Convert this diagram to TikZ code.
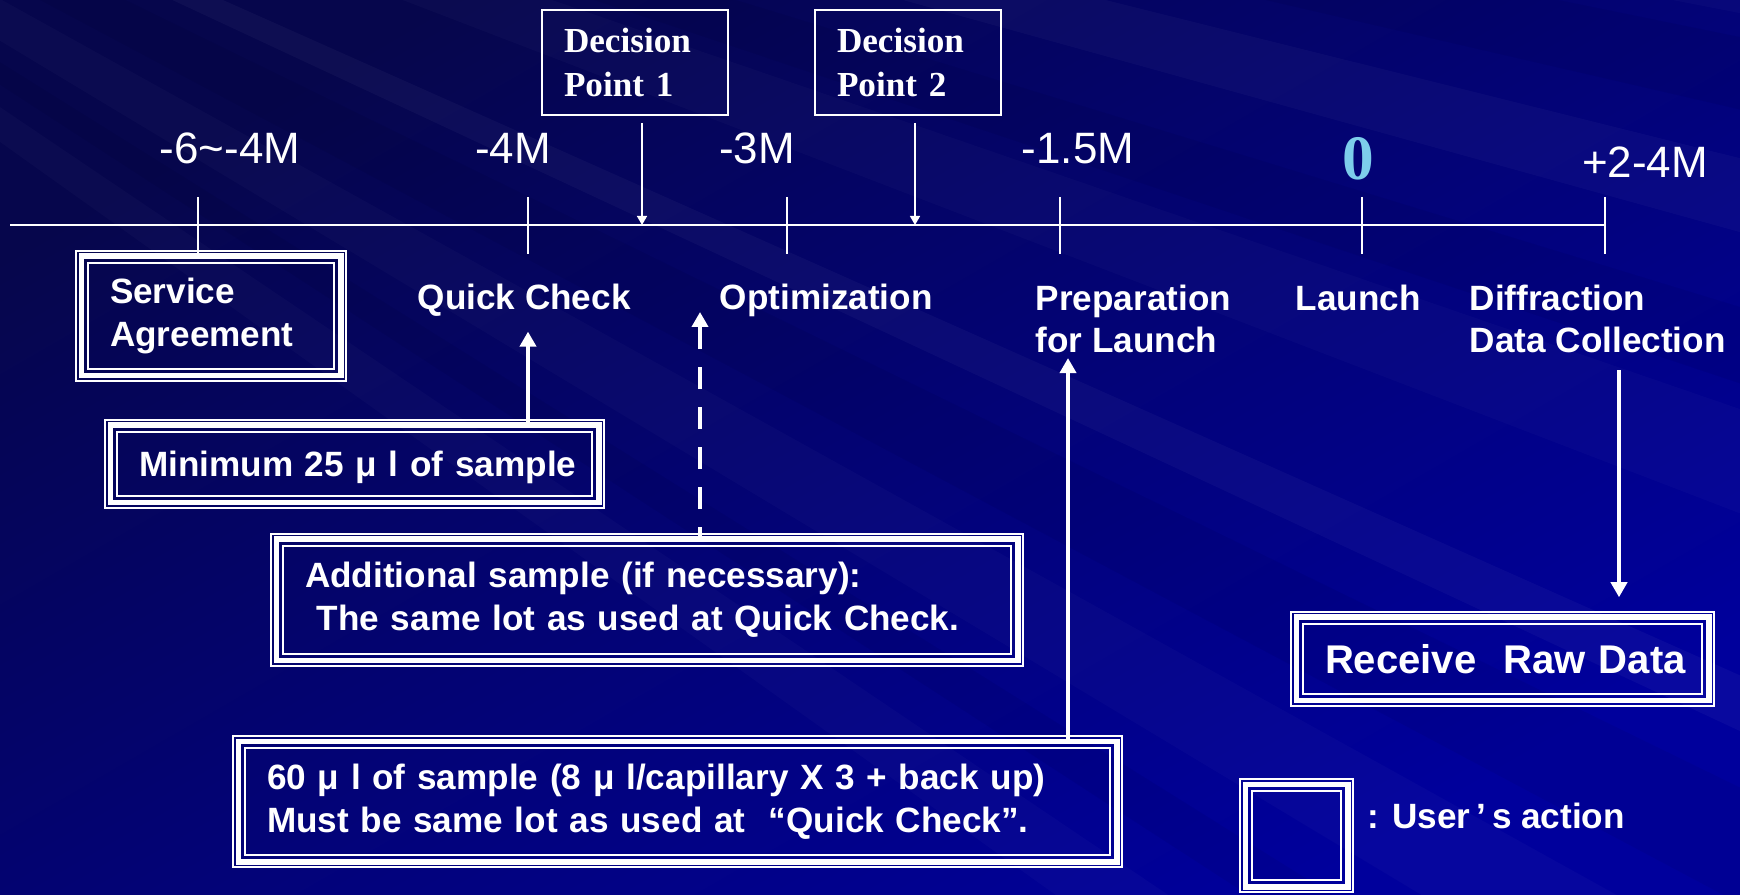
\documentclass[tikz,border=0pt]{standalone}
\usepackage{fontspec}
\setmainfont{Liberation Sans}
\newfontfamily\serifbold{Liberation Serif}
\usetikzlibrary{calc}
\usetikzlibrary{arrows.meta}

\definecolor{bgtop}{RGB}{6,6,76}
\definecolor{bgbot}{RGB}{0,0,156}
\definecolor{zeroblue}{RGB}{125,205,235}

\tikzset{
  useract/.style={draw=white, line width=0.55mm, outer sep=0pt, inner xsep=2.875mm, inner ysep=0pt,
    align=left, text=white, font=\fontsize{10}{12.3}\selectfont\bfseries},
  decision/.style={draw=white, line width=0.2mm, outer sep=0pt, inner xsep=2.2mm, text width=14.2mm,
    minimum height=10.5mm, align=left, text=white, font=\serifbold\fontsize{10}{12.5}\selectfont\bfseries},
  month/.style={text=white, font=\fontsize{12.5}{15}\selectfont, anchor=base},
  stage/.style={text=white, font=\fontsize{10}{12.2}\selectfont\bfseries, align=left, anchor=base west, inner sep=0pt},
  bigarrow/.style={white, line width=0.45mm, -{Triangle[width=1.6mm,length=1.5mm]}},
  smallarrow/.style={white, line width=0.15mm, -{Triangle[width=1mm,length=0.9mm]}},
  tick/.style={white, line width=0.15mm},
}

\begin{document}
\begin{tikzpicture}[x=0.1mm,y=-0.1mm]
\useasboundingbox (0,0) rectangle (1740,895);

% background with faint streaks
\begin{scope}
  \clip (0,0) rectangle (1740,895);
  \shade[top color=bgtop, bottom color=bgbot, shading angle=30] (0,0) rectangle (1740,895);
  \foreach \a/\b/\o in {9/11/0.025, 14/15.5/0.03, 19/21/0.025, 24/25/0.035, 29/31/0.025, 34/35.5/0.025}
    \fill[white, opacity=\o] (-900,-500) -- +(\a:5000) -- +(\b:5000) -- cycle;
  \foreach \a/\b in {11.5/13, 17/18.5, 26/28, 32/33}
    \fill[black, opacity=0.05] (-900,-500) -- +(\a:5000) -- +(\b:5000) -- cycle;
\end{scope}

% time line and ticks
\coordinate (tl) at (10,225);
\foreach \x/\n in {198/1,528/2,787/3,1060/4,1362/5,1605/6} {
  \coordinate (tk\n) at (\x,225);
  \draw[tick] (\x,197) -- (\x,254);
}
\draw[white, line width=0.2mm] (tl) -- (tk6);

% months
\node[month] (m1) at (230,164) {-6\textasciitilde-4M};
\node[month] (m2) at (513,164) {-4M};
\node[month] (m3) at (757,164) {-3M};
\node[month] (m4) at (1078,164) {-1.5M};
\node[month, text=zeroblue, font=\serifbold\bfseries\fontsize{18}{20}\selectfont] (m5) at (1358,180) {0};
\node[month] (m6) at (1645,178) {+2-4M};

% decision points
\node[decision] (dp1) at (635,62.5) {Decision\\Point 1};
\node[decision] (dp2) at (908,62.5) {Decision\\Point 2};
\coordinate (dp1x) at ($(dp1.south)+(7,8)$);
\coordinate (dp2x) at ($(dp2.south)+(7,8)$);
\draw[smallarrow] (dp1x) -- (dp1x |- tl);
\draw[smallarrow] (dp2x) -- (dp2x |- tl);

% stages (base = last line)
\node[stage] (quick) at (417,310) {Quick Check};
\node[stage] (opt) at (719,310) {Optimization};
\node[stage] (prep) at (1035,353) {Preparation\\for Launch};
\node[stage] (launch) at (1295,311) {Launch};
\node[stage] (diff) at (1469,353) {Diffraction\\Data Collection};

% user's actions
\node[useract, text width=20.2mm, minimum height=11.95mm] (agree) at (211,316) {Service\\Agreement};
\node[useract, text width=43.1mm, minimum height=7.75mm, text depth=0pt] (minimum) at (354.5,464)
  {\mbox{Minimum 25 μ l of sample}};
\node[useract, text width=68.4mm, minimum height=12.15mm] (extra) at (647,600)
  {Additional sample (if necessary):\\ \ The same lot as used at Quick Check.};
\node[useract, text width=82.1mm, minimum height=12.05mm] (sixty) at (677.5,801.5)
  {60 μ l of sample (8 μ l/capillary X 3 + back up)\\Must be same lot as used at \ “Quick Check”.};
\node[useract, text width=35.5mm, minimum height=8.35mm, font=\fontsize{11.4}{13}\selectfont\bfseries] (raw) at (1502.5,659)
  {\mbox{Receive \ Raw Data}};
\node[useract, text width=4.5mm, minimum height=10.25mm] (legend) at (1296.5,835.5) {};
\node[stage] (legtext) at (1367,828) {: User\,’\,s action};

% thin outer and inner lines of the triple frames
\foreach \b in {agree,minimum,extra,sixty,raw,legend} {
  \draw[white, line width=0.2mm] ([shift={(-0.525mm,0.525mm)}]\b.north west) rectangle ([shift={(0.525mm,-0.525mm)}]\b.south east);
  \draw[white, line width=0.2mm] ([shift={(0.675mm,-0.675mm)}]\b.north west) rectangle ([shift={(-0.675mm,0.675mm)}]\b.south east);
}

% arrows from the actions
\coordinate (qcx) at ($(quick.south -| tk2)+(0,14)$);
\draw[bigarrow] (minimum.north -| qcx) -- (qcx);
\coordinate (optx) at ($(opt.base west)+(-19,2)$);
\draw[bigarrow, dash pattern=on 2.2mm off 1.8mm, dash phase=1mm] (extra.north -| optx) -- (optx);
\coordinate (prepx) at ($(prep.south west)+(33,4)$);
\draw[bigarrow] (sixty.north -| prepx) -- (prepx);
\coordinate (diffx) at ($(diff.south west)+(150,16)$);
\draw[bigarrow, shorten >=2mm] (diffx) -- (diffx |- raw.north);

\end{tikzpicture}
\end{document}
